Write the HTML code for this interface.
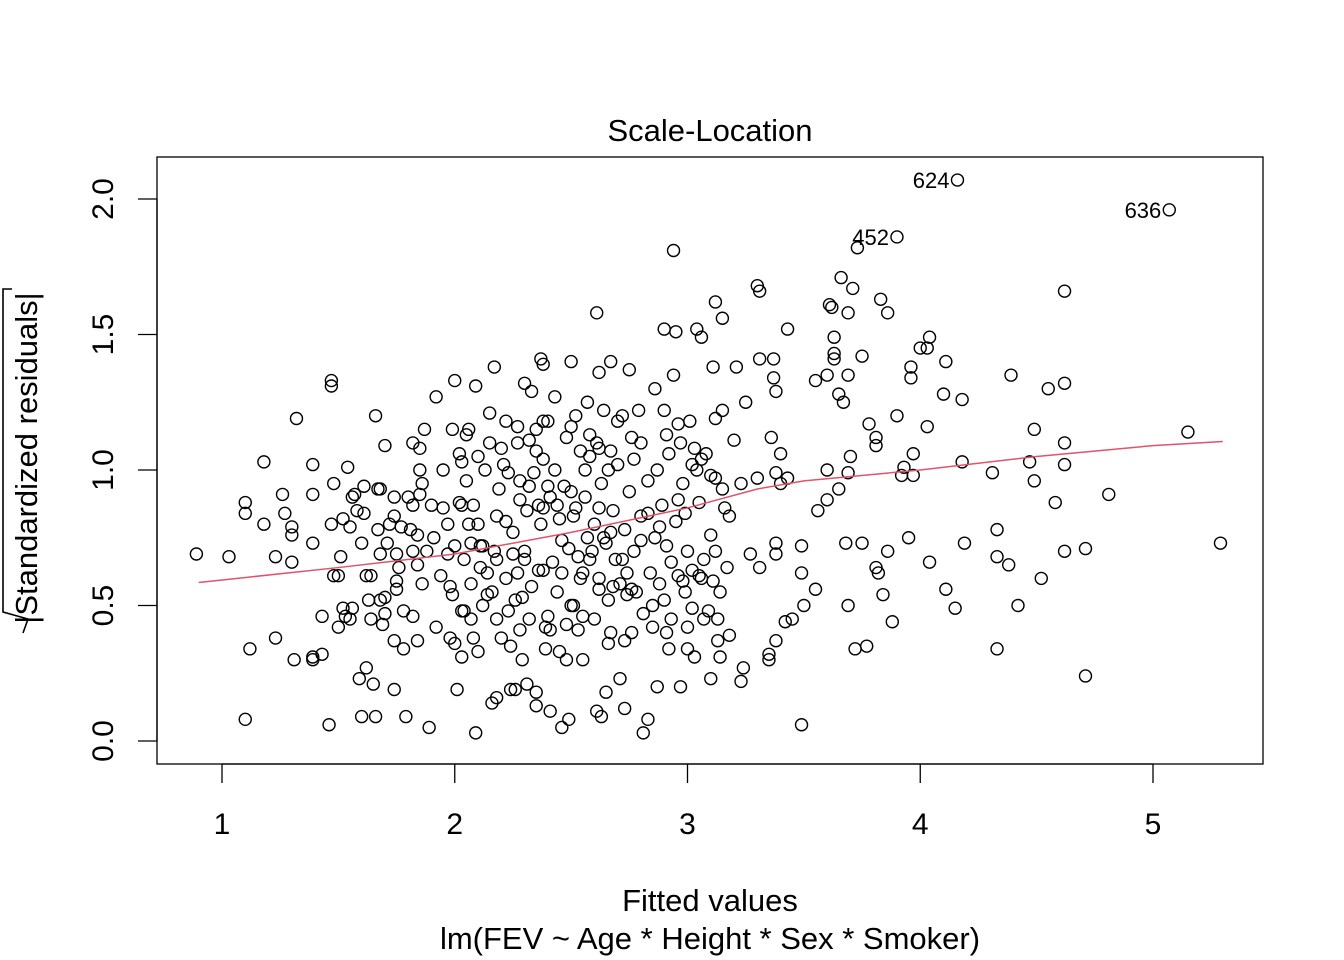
<!DOCTYPE html>
<html><head><meta charset="utf-8"><title>Scale-Location</title>
<style>html,body{margin:0;padding:0;background:#fff}svg{display:block}</style></head>
<body>
<svg id="chart" width="1344" height="960" xmlns="http://www.w3.org/2000/svg" font-family="Liberation Sans, Arial, sans-serif">
<rect width="1344" height="960" fill="#fff"/>
<text x="710" y="141" font-size="31" text-anchor="middle">Scale-Location</text>
<rect x="157" y="157" width="1106" height="607" fill="none" stroke="#000" stroke-width="1.3"/>
<g id="xaxis"></g>
<g id="yaxis"></g>
<text x="710" y="911" font-size="31" text-anchor="middle">Fitted values</text>
<text x="710" y="949" font-size="31" text-anchor="middle">lm(FEV ~ Age * Height * Sex * Smoker)</text>
<g>
<path d="M12,289 L3,289 L3,612 L28,619 L23,633" fill="none" stroke="#000" stroke-width="1.6"/>
<text transform="translate(37,458) rotate(-90)" font-size="31" text-anchor="middle">|Standardized residuals|</text>
</g>
<g id="points"></g>
<g id="smooth"></g>
<g id="labels"></g>
</svg>
<script>
const xTicks=[1,2,3,4,5];
const yTicks=[0.0,0.5,1.0,1.5,2.0];
const yTickLabels=["0.0","0.5","1.0","1.5","2.0"];
const fitted=[0.89,1.03,1.10,1.10,1.12,1.10,1.18,1.18,1.23,1.23,1.26,1.27,1.30,1.30,1.30,1.32,1.31,1.39,1.39,1.39,1.39,1.39,1.43,1.43,1.47,1.47,1.47,1.48,1.48,1.46,1.50,1.50,1.52,1.54,1.55,1.53,1.52,1.51,1.56,1.57,1.56,1.55,1.59,1.60,1.61,1.61,1.62,1.64,1.63,1.64,1.66,1.67,1.66,1.62,1.65,1.68,1.67,1.68,1.69,1.70,1.71,1.70,1.70,1.74,1.74,1.75,1.75,1.75,1.74,1.74,1.77,1.78,1.78,1.80,1.81,1.82,1.82,1.82,1.82,1.84,1.84,1.85,1.85,1.85,1.87,1.86,1.84,1.79,1.89,1.91,1.92,1.92,1.94,1.95,1.97,1.98,2.00,1.99,1.99,2.00,2.01,2.02,2.03,2.03,2.04,2.03,2.03,2.05,2.06,2.07,2.07,2.07,2.09,2.10,2.10,2.09,2.11,2.11,2.13,2.14,2.15,2.16,2.17,2.17,2.18,2.18,2.20,2.22,2.22,2.23,2.23,2.24,2.25,2.26,2.27,2.28,2.28,2.29,2.30,2.30,2.31,2.32,2.32,2.33,2.35,2.35,2.35,2.36,2.37,2.38,2.38,2.38,2.38,2.39,2.40,2.40,2.41,2.41,2.43,2.43,2.44,2.46,2.46,2.48,2.48,2.49,2.50,2.50,2.50,2.51,2.51,2.53,2.54,2.54,2.55,2.56,2.57,2.57,2.58,2.60,2.61,2.61,2.61,2.62,2.62,2.62,2.63,2.64,2.65,2.66,2.66,2.67,2.67,2.67,2.68,2.70,2.71,2.72,2.73,2.73,2.74,2.75,2.76,2.76,2.77,2.79,2.80,2.81,2.83,2.83,2.85,2.86,2.87,2.87,2.88,2.90,2.91,2.91,2.91,2.92,2.94,2.94,2.95,2.96,2.96,2.97,2.98,2.99,3.00,3.01,3.02,3.02,3.03,3.04,3.05,3.06,3.06,3.09,3.10,3.11,3.11,3.12,3.12,3.12,3.13,3.14,3.15,3.15,3.15,3.17,3.18,3.18,3.20,3.21,3.23,3.23,3.24,3.25,3.27,3.30,3.30,3.31,3.31,3.31,3.35,3.35,3.36,3.37,3.37,3.38,3.38,3.38,3.38,3.38,3.40,3.40,3.42,3.43,3.43,3.45,3.49,3.49,3.49,3.50,3.55,3.55,3.56,3.60,3.60,3.60,3.61,3.62,3.63,3.63,3.63,3.65,3.65,3.66,3.67,3.68,3.69,3.69,3.69,3.69,3.70,3.71,3.72,3.73,3.90,3.75,3.75,3.77,3.78,3.81,3.81,3.81,3.82,3.83,3.84,3.86,3.86,3.88,3.90,3.92,3.93,3.95,3.96,3.96,3.97,3.97,4.00,4.03,4.03,4.04,4.04,4.10,4.11,4.11,4.15,4.18,4.18,4.19,4.16,4.31,4.33,4.33,4.33,4.38,4.39,4.42,4.47,4.49,4.49,4.52,4.55,4.58,4.62,4.62,4.62,4.62,4.62,4.71,4.71,4.81,5.07,5.15,5.29,
2.05,2.08,2.12,2.14,2.16,2.19,2.21,2.22,2.25,2.26,2.28,2.30,2.31,2.33,2.34,2.36,2.37,2.39,2.41,2.42,2.44,2.45,2.47,2.49,2.50,2.52,2.53,2.55,2.56,2.58,2.59,2.60,2.62,2.63,2.65,2.66,2.68,2.69,2.70,2.71,2.73,2.74,2.75,2.77,2.78,2.80,2.81,2.83,2.84,2.86,2.88,2.89,2.90,2.92,2.93,2.95,2.96,2.98,2.99,3.00,3.02,3.03,3.05,3.07,3.08,3.10,3.12,3.14,3.16,1.95,1.97,1.98,2.00,2.02,2.04,2.06,2.08,2.10,2.12,2.15,2.18,2.20,2.24,2.27,2.29,2.32,2.35,2.40,2.45,2.48,2.52,2.55,2.58,2.62,2.67,2.72,2.76,2.80,2.85,2.90,2.93,2.97,3.00,3.04,3.07,3.10,3.13,3.06,2.64,2.46,2.38,2.27,2.18,1.90,1.88,1.86,1.76,1.72,1.68,1.60,1.58];
const resid=[0.69,0.68,0.88,0.84,0.34,0.08,1.03,0.80,0.68,0.38,0.91,0.84,0.79,0.76,0.66,1.19,0.30,1.02,0.91,0.73,0.30,0.31,0.32,0.46,1.33,1.31,0.80,0.95,0.61,0.06,0.61,0.42,0.82,1.01,0.79,0.46,0.49,0.68,0.90,0.91,0.49,0.45,0.23,0.09,0.84,0.94,0.61,0.61,0.52,0.45,1.20,0.93,0.09,0.27,0.21,0.93,0.78,0.69,0.43,1.09,0.73,0.53,0.47,0.90,0.83,0.69,0.59,0.56,0.37,0.19,0.79,0.48,0.34,0.90,0.78,0.87,1.10,0.70,0.46,0.76,0.65,1.00,1.08,0.91,1.15,0.58,0.37,0.09,0.05,0.75,1.27,0.42,0.61,0.86,0.69,0.38,0.36,1.15,0.54,1.33,0.19,1.06,1.03,0.87,0.67,0.48,0.31,1.13,0.80,0.73,0.58,0.45,1.31,1.05,0.33,0.03,0.72,0.64,1.00,0.54,1.21,0.14,1.38,0.70,0.67,0.16,0.38,1.18,0.81,0.99,0.48,0.19,0.69,0.19,1.16,0.89,0.41,0.53,0.70,1.32,0.21,1.11,0.45,1.29,0.18,1.07,0.13,0.87,1.41,1.18,1.39,1.04,0.63,0.34,0.94,0.46,0.41,0.11,1.27,1.00,0.87,0.62,0.05,0.30,0.43,0.08,1.40,1.16,0.92,0.83,0.50,0.68,1.07,0.60,0.46,1.00,1.25,0.75,0.67,0.45,1.58,1.10,0.11,0.86,1.36,0.56,0.09,1.22,0.18,0.36,1.00,1.40,1.07,0.77,0.57,1.18,0.23,0.67,0.12,0.37,0.54,1.37,1.12,0.56,1.04,1.22,0.74,0.03,0.84,0.08,0.50,1.30,0.20,1.00,0.79,1.52,1.13,0.40,0.72,0.34,1.81,1.35,1.51,1.17,0.89,0.20,0.59,0.84,0.34,1.18,0.49,1.02,0.31,1.52,0.61,1.49,1.04,0.48,0.23,0.59,1.38,1.62,1.19,0.70,0.37,0.31,1.56,1.22,0.93,0.64,0.83,0.39,1.11,1.38,0.95,0.22,0.27,1.25,0.69,1.68,0.97,1.41,1.66,0.64,0.32,0.30,1.12,1.41,1.34,1.29,0.73,0.69,0.99,0.37,1.06,0.95,0.44,1.52,0.97,0.45,0.72,0.62,0.06,0.50,1.33,0.56,0.85,0.89,1.00,1.35,1.61,1.60,1.49,1.43,1.41,0.93,1.28,1.71,1.25,0.73,1.58,1.35,0.99,0.50,1.05,1.67,0.34,1.82,1.86,1.42,0.73,0.35,1.17,1.12,1.09,0.64,0.62,1.63,0.54,0.70,1.58,0.44,1.20,0.98,1.01,0.75,1.38,1.34,1.06,0.98,1.45,1.45,1.16,0.66,1.49,1.28,1.40,0.56,0.49,1.26,1.03,0.73,2.07,0.99,0.34,0.78,0.68,0.65,1.35,0.50,1.03,1.15,0.96,0.60,1.30,0.88,1.66,1.32,1.10,1.02,0.70,0.71,0.24,0.91,1.96,1.14,0.73,
0.96,0.87,0.72,0.62,0.55,0.93,1.02,0.60,0.77,0.52,0.96,0.67,0.85,0.57,0.99,0.63,0.80,0.42,0.90,0.66,0.55,0.82,0.94,0.71,0.50,0.86,0.41,0.62,0.90,1.05,0.70,0.80,0.60,0.95,0.73,0.52,0.85,0.67,1.02,0.58,0.78,0.62,0.92,0.70,0.55,0.83,0.47,0.96,0.62,0.75,0.58,0.87,0.52,1.06,0.66,0.81,0.61,0.95,0.55,0.70,0.63,1.08,0.88,0.67,1.06,0.76,0.97,0.55,0.86,1.00,0.80,0.57,0.72,0.88,0.48,1.15,0.38,0.80,0.50,1.10,0.45,1.08,0.35,1.10,0.30,0.94,1.15,1.18,0.33,1.12,1.20,0.30,1.13,1.08,0.40,1.20,0.40,1.10,0.42,1.22,0.45,1.10,0.42,1.00,0.45,0.98,0.45,0.60,0.75,0.74,0.86,0.62,0.83,0.87,0.70,0.95,0.64,0.80,0.52,0.73,0.85];
const smoothX=[0.90,1.5,2.0,2.5,3.0,3.3,3.5,4.0,4.5,5.0,5.30];
const smoothY=[0.585,0.64,0.69,0.77,0.86,0.93,0.96,1.00,1.05,1.09,1.105];
const labelIds=["624","452","636"];
const labelX=[4.16,3.90,5.07];
const labelY=[2.07,1.86,1.96];

const NS="http://www.w3.org/2000/svg";
function sx(v){return 222+(v-1)*232.75;}
function sy(v){return 741-v*271;}
function mk(tag,attrs,parent){const e=document.createElementNS(NS,tag);for(const k in attrs)e.setAttribute(k,attrs[k]);parent.appendChild(e);return e;}

const xa=document.getElementById('xaxis');
mk('line',{x1:sx(xTicks[0]),x2:sx(xTicks[xTicks.length-1]),y1:764,y2:764,stroke:'#000','stroke-width':1.3},xa);
xTicks.forEach(t=>{
  const l=mk('line',{x1:sx(t),x2:sx(t),y1:764,y2:783,stroke:'#000','stroke-width':1.3},xa);
  
  
  const tx=mk('text',{x:sx(t),y:834,'font-size':30,'text-anchor':'middle'},xa);
  tx.textContent=String(t);
  
  
});
const ya=document.getElementById('yaxis');
mk('line',{x1:157,x2:157,y1:sy(yTicks[0]),y2:sy(yTicks[yTicks.length-1]),stroke:'#000','stroke-width':1.3},ya);
yTicks.forEach((t,i)=>{
  const l=mk('line',{x1:138,x2:157,y1:sy(t),y2:sy(t),stroke:'#000','stroke-width':1.3},ya);
  
  
  const tx=mk('text',{transform:'translate(113,'+sy(t)+') rotate(-90)','font-size':30,'text-anchor':'middle'},ya);
  tx.textContent=yTickLabels[i];
  
  
});
const pg=document.getElementById('points');
for(let i=0;i<fitted.length;i++){
  const c=mk('circle',{cx:sx(fitted[i]),cy:sy(resid[i]),r:6,fill:'none',stroke:'#000','stroke-width':1.4},pg);
  
  
}
const sg=document.getElementById('smooth');
const pl=mk('polyline',{points:smoothX.map((x,i)=>sx(x)+','+sy(smoothY[i])).join(' '),fill:'none',stroke:'#DF536B','stroke-width':1.5},sg);


const lg=document.getElementById('labels');
labelIds.forEach((id,i)=>{
  const t=mk('text',{x:sx(labelX[i])-8,y:sy(labelY[i])+8,'font-size':22,'text-anchor':'end'},lg);
  t.textContent=id;
  
  
});
</script>
</body></html>
